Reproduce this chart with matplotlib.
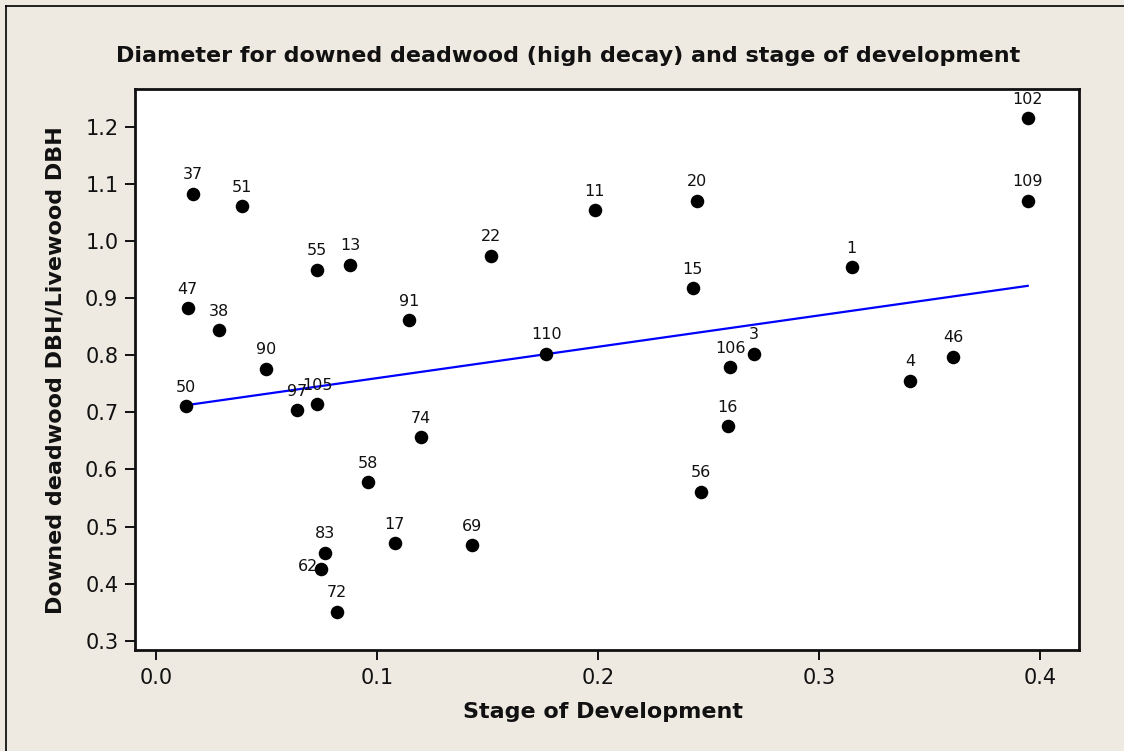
import numpy as np
import matplotlib
matplotlib.use("Agg")
import matplotlib.pyplot as plt
from matplotlib.lines import Line2D

# ---- data ----
ids = ["37", "51", "55", "13", "22", "11", "20", "102", "109", "1",
       "47", "38", "91", "15", "110", "3", "106", "46", "4", "90",
       "50", "97", "105", "74", "16", "58", "56", "83", "62", "17",
       "69", "72"]
stage = [0.0169, 0.0389, 0.0730, 0.0878, 0.1516, 0.1986, 0.2446, 0.3944, 0.3944, 0.3148,
         0.0143, 0.0284, 0.1144, 0.2428, 0.1765, 0.2705, 0.2597, 0.3608, 0.3412, 0.0498,
         0.0136, 0.0639, 0.0730, 0.1198, 0.2587, 0.0959, 0.2465, 0.0765, 0.0745, 0.1080,
         0.1428, 0.0818]
ratio = [1.083, 1.061, 0.950, 0.958, 0.974, 1.054, 1.070, 1.215, 1.070, 0.954,
         0.882, 0.844, 0.861, 0.917, 0.803, 0.803, 0.779, 0.797, 0.755, 0.776,
         0.711, 0.704, 0.714, 0.656, 0.676, 0.578, 0.561, 0.454, 0.426, 0.471,
         0.467, 0.351]
x_ticks = [0.0, 0.1, 0.2, 0.3, 0.4]
y_ticks = [0.3, 0.4, 0.5, 0.6, 0.7, 0.8, 0.9, 1.0, 1.1, 1.2]

title = "Diameter for downed deadwood (high decay) and stage of development"
xlabel = "Stage of Development"
ylabel = "Downed deadwood DBH/Livewood DBH"

# label offsets in pixels (dx, dy) for special cases
label_offsets = {"62": (-13, 2)}

BG = "#EEEAE1"
W, H = 1124, 751
fig = plt.figure(figsize=(W / 100, H / 100), dpi=100, facecolor=BG)
# axes frame in pixel coordinates: left 135, right 1079, top 89, bottom 650
left, right, top, bottom = 135, 1079, 89, 650
ax = fig.add_axes([left / W, 1 - bottom / H, (right - left) / W, (bottom - top) / H])
ax.set_facecolor("white")

x = np.array(stage)
y = np.array(ratio)
ax.scatter(x, y, s=95, color="black", zorder=3, linewidths=0)

# fitted regression line
b, a = np.polyfit(x, y, 1)
xs = np.array([x.min(), x.max()])
ax.plot(xs, a + b * xs, color="#0000FF", lw=1.6, zorder=2)

for lab, xi, yi in zip(ids, x, y):
    dx, dy = label_offsets.get(lab, (0, 19))
    ax.annotate(lab, (xi, yi), xytext=(dx * 0.72, dy * 0.72), textcoords="offset points",
                ha="center", va="center", fontsize=11.5, color="#111111", zorder=4)

ax.set_xlim(-0.0095, 0.4176)
ax.set_ylim(0.284, 1.266)
ax.set_xticks(x_ticks)
ax.set_xticklabels([f"{t:.1f}" for t in x_ticks])
ax.set_yticks(y_ticks)
ax.set_yticklabels([f"{t:.1f}" for t in y_ticks])
ax.tick_params(axis="both", direction="out", length=7, width=1.4, labelsize=15,
               colors="#111111", pad=5)
ax.tick_params(axis="x", pad=6)
for sp in ax.spines.values():
    sp.set_linewidth(2.0)
    sp.set_color("#111111")

fig.text(568 / W, 1 - 56 / H, title, ha="center", va="center",
         fontsize=16, fontweight="bold", color="#111111")
fig.text(603 / W, 1 - 712 / H, xlabel, ha="center", va="center",
         fontsize=16, fontweight="bold", color="#111111")
fig.text(56 / W, 1 - 370 / H, ylabel, ha="center", va="center", rotation=90,
         fontsize=16, fontweight="bold", color="#111111")

# partial outer border (top and left)
fig.add_artist(Line2D([5.5 / W, 5.5 / W], [0, 1 - 5.5 / H], transform=fig.transFigure,
                      color="black", lw=1.2))
fig.add_artist(Line2D([5.5 / W, 1], [1 - 5.5 / H, 1 - 5.5 / H], transform=fig.transFigure,
                      color="black", lw=1.2))

fig.savefig("out.png", dpi=100, facecolor=BG)
